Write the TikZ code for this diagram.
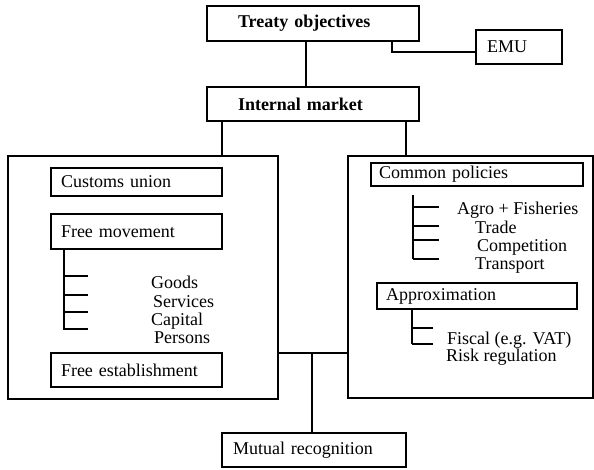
\documentclass[tikz,border=0pt]{standalone}
\usepackage{fontspec}
\setmainfont{Liberation Serif}
\begin{document}
\begin{tikzpicture}[x=1pt,y=-1pt,
  ln/.style={line width=1.2pt},
  box/.style={draw, line width=1.2pt, anchor=north west, align=left, inner ysep=0pt, outer sep=0pt, font=\fontsize{18}{20}\selectfont},
  big/.style={draw, line width=1.2pt, anchor=north west, inner sep=0pt, outer sep=0pt},
  lbl/.style={anchor=base west, inner sep=0pt, font=\fontsize{18}{20}\selectfont}]
\useasboundingbox (0,0) rectangle (594,469);
% boxes
\node[box, minimum width=212pt, minimum height=35pt, text width=150pt, inner xsep=31pt, font=\fontsize{18}{20}\selectfont\bfseries] (treaty) at (207,6) {Treaty objectives};
\node[box, minimum width=86pt, minimum height=34pt, text width=64pt, inner xsep=11pt] (emu) at (476,30) {EMU};
\node[box, minimum width=212pt, minimum height=34pt, text width=150pt, inner xsep=31pt, font=\fontsize{18}{20}\selectfont\bfseries] (internal) at (207,87) {Internal market};
\node[big, minimum width=270pt, minimum height=243pt] (leftbig) at (8,156) {};
\node[big, minimum width=245pt, minimum height=242pt] (rightbig) at (348,156) {};
\node[box, minimum width=171pt, minimum height=28pt, text width=151pt, inner xsep=10pt] (customs) at (51,168) {Customs union};
\node[box, minimum width=171pt, minimum height=35pt, text width=151pt, inner xsep=10pt] (freemov) at (51,214) {Free movement};
\node[box, minimum width=171pt, minimum height=34pt, text width=151pt, inner xsep=10pt] (freeest) at (51,353) {Free establishment};
\node[box, minimum width=212pt, minimum height=23pt, text width=196pt, inner xsep=8pt] (common) at (371,163) {Common policies};
\node[box, minimum width=200pt, minimum height=26pt, text width=182pt, inner xsep=9pt] (approx) at (377,283) {Approximation};
\node[box, minimum width=184pt, minimum height=34pt, text width=162pt, inner xsep=11pt] (mutual) at (222,433) {Mutual recognition};
% labels
\node[lbl] (goods) at (151,288) {Goods};
\node[lbl] (services) at (153,307) {Services};
\node[lbl] (capital) at (151,325) {Capital};
\node[lbl] (persons) at (154,343) {Persons};
\node[lbl] (agro) at (457,214) {Agro + Fisheries};
\node[lbl] (trade) at (475,233) {Trade};
\node[lbl] (compet) at (477,251) {Competition};
\node[lbl] (transp) at (475,269) {Transport};
\node[lbl] (fiscal) at (447,344) {Fiscal (e.g. VAT)};
\node[lbl] (risk) at (446,361) {Risk regulation};
% helper coordinates
\coordinate (xa) at (306,0);
\coordinate (xe) at (392,52);
\coordinate (xl) at (222,0);
\coordinate (xr) at (406,0);
\coordinate (yb) at (312,353);
% connectors
\draw[ln] (xa |- treaty.south) -- (xa |- internal.north);
\draw[ln] (xe |- treaty.south) -- (xe) -- (emu.west |- xe);
\draw[ln] (xl |- internal.south) -- (xl |- leftbig.north);
\draw[ln] (xr |- internal.south) -- (xr |- rightbig.north);
\draw[ln] (leftbig.east |- yb) -- (rightbig.west |- yb);
\draw[ln] (yb) -- (yb |- mutual.north);
% free movement tree
\coordinate (t1) at (64,330);
\draw[ln] (t1 |- freemov.south) -- (t1);
\foreach \y in {276,295,312,329} \draw[ln] (64,\y) -- (88,\y);
% common policies tree
\draw[ln] (413,195) -- (413,259);
\foreach \y in {207,226,240,259} \draw[ln] (413,\y) -- (439,\y);
% approximation tree
\coordinate (t2) at (412,344);
\draw[ln] (t2 |- approx.south) -- (t2);
\foreach \y in {328,344} \draw[ln] (412,\y) -- (433,\y);
\end{tikzpicture}
\end{document}
